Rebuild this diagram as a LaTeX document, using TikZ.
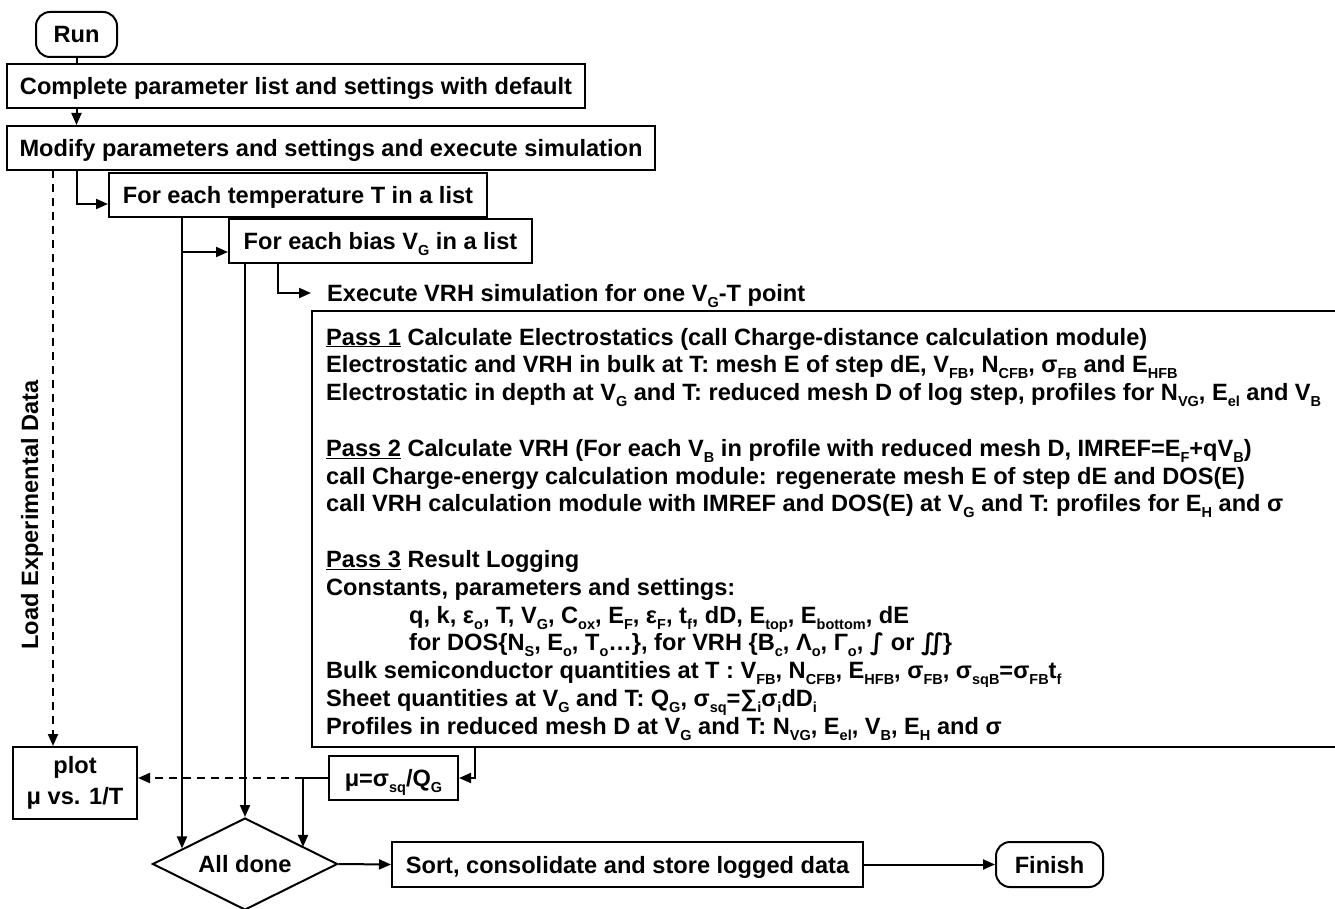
\documentclass[tikz,border=0pt]{standalone}
\usepackage{fontspec}
\setmainfont{Liberation Sans}
\newfontfamily\djv{DejaVu Sans}
\usetikzlibrary{arrows.meta,shapes.geometric,calc}
\newcommand\sbs[1]{\raisebox{-6pt}{\fontsize{14.5}{14.5}\selectfont #1}}
\begin{document}
\begin{tikzpicture}[x=1pt,y=-1pt,
  every node/.style={font=\fontsize{23.6}{27.8}\selectfont\bfseries},
  box/.style={draw, line width=2pt, inner sep=0pt, text height=17pt, text depth=0pt},
  term/.style={box, rounded corners=14pt},
  arr/.style={line width=2pt, -{Triangle[length=12pt,width=10pt]}},
  ln/.style={line width=2pt},
  dsh/.style={arr, dash pattern=on 8pt off 6pt},
  txt/.style={anchor=base west, inner sep=0pt}
]
\useasboundingbox (0,0) rectangle (1335,909);
\clip (0,0) rectangle (1335,909);

\node[term, minimum width=81pt, minimum height=45pt] (run) at (76.5,34.5) {Run};
\node[box, minimum width=578pt, minimum height=44pt] (complete) at (296,86) {Complete parameter list and settings with default};
\node[box, minimum width=648pt, minimum height=44pt] (modify) at (331,148) {Modify parameters and settings and execute simulation};
\node[box, minimum width=378pt, minimum height=44pt] (temp) at (298,195) {For each temperature T in a list};
\node[box, minimum width=303pt, minimum height=44pt] (bias) at (380.5,241) {For each bias V\sbs{G} in a list};
\node[anchor=west, inner xsep=16pt, inner ysep=0pt, text height=17pt, text depth=0pt] (exec) at (311,293) {Execute VRH simulation for one V\sbs{G}-T point};
\node[draw, line width=2pt, minimum width=1040pt, minimum height=436pt, anchor=north west, inner sep=0pt] (vrh) at (311,310) {};

\node[txt] (l1) at (326,345) {\underline{Pass 1} Calculate Electrostatics (call Charge-distance calculation module)};
\node[txt] (l2) at (326,372.8) {Electrostatic and VRH in bulk at T: mesh E of step dE, V\sbs{FB}, N\sbs{CFB}, σ\sbs{FB} and E\sbs{HFB}};
\node[txt] (l3) at (326,400.6) {Electrostatic in depth at V\sbs{G} and T: reduced mesh D of log step, profiles for N\sbs{VG}, E\sbs{el} and V\sbs{B}};
\node[txt] (l5) at (326,456.2) {\underline{Pass 2} Calculate VRH (For each V\sbs{B} in profile with reduced mesh D, IMREF=E\sbs{F}+qV\sbs{B})};
\node[txt] (l6) at (326,484) {call Charge-energy calculation module: regenerate mesh E of step dE and DOS(E)};
\node[txt] (l7) at (326,511.8) {call VRH calculation module with IMREF and DOS(E) at V\sbs{G} and T: profiles for E\sbs{H} and σ};
\node[txt] (l9) at (326,567.4) {\underline{Pass 3} Result Logging};
\node[txt] (l10) at (326,595.2) {Constants, parameters and settings:};
\node[txt] (l11) at (409,623) {q, k, ε\sbs{o}, T, V\sbs{G}, C\sbs{ox}, E\sbs{F}, ε\sbs{F}, t\sbs{f}, dD, E\sbs{top}, E\sbs{bottom}, dE};
\node[txt] (l12) at (409,650.8) {for DOS\{N\sbs{S}, E\sbs{o}, T\sbs{o}…\}, for VRH \{B\sbs{c}, Λ\sbs{o}, Γ\sbs{o}, {\djv ∫} or {\djv ∬}\}};
\node[txt] (l13) at (326,678.6) {Bulk semiconductor quantities at T : V\sbs{FB}, N\sbs{CFB}, E\sbs{HFB}, σ\sbs{FB}, σ\sbs{sqB}=σ\sbs{FB}t\sbs{f}};
\node[txt] (l14) at (326,706.4) {Sheet quantities at V\sbs{G} and T: Q\sbs{G}, σ\sbs{sq}=∑\sbs{i}σ\sbs{i}dD\sbs{i}};
\node[txt] (l15) at (326,734.2) {Profiles in reduced mesh D at V\sbs{G} and T: N\sbs{VG}, E\sbs{el}, V\sbs{B}, E\sbs{H} and σ};

\node[box, minimum width=129pt, minimum height=44pt] (mu) at (393.5,778) {μ=σ\sbs{sq}/Q\sbs{G}};
\node[draw, line width=2pt, minimum width=124pt, minimum height=72pt, align=center, inner sep=0pt, font=\fontsize{23.6}{31}\selectfont\bfseries] (plot) at (75,783) {plot\\μ vs. 1/T};
\node[diamond, draw, line width=2pt, aspect=2, minimum width=185pt, minimum height=92pt, inner sep=0pt] (done) at (245,864) {All done};
\node[box, minimum width=471pt, minimum height=45pt] (sort) at (627.5,864.5) {Sort, consolidate and store logged data};
\node[term, minimum width=107pt, minimum height=45pt] (finish) at (1049.5,864.5) {Finish};
\node[rotate=90, inner sep=0pt] (load) at (32,515) {Load Experimental Data};

\coordinate (tin) at ($(temp.west)+(0,9)$);
\coordinate (bin) at ($(bias.west)+(0,11)$);
\coordinate (tx) at (182,217);
\coordinate (ex) at (278,263);
\coordinate (vx) at (475,746);
\coordinate (mj) at (303,778);
\coordinate (dx) at (53,170);

\draw[ln] (run.south) -- (run.south |- complete.north);
\draw[arr] (run.south |- complete.south) -- (run.south |- modify.north);
\draw[arr] (run.south |- modify.south) |- (tin);
\draw[arr] (tx) -- (tx |- done.166);
\draw[arr] (tx |- bin) -- (bin);
\draw[arr] (done.north |- bias.south) -- (done.north);
\draw[arr] (ex) |- (exec.west);
\draw[arr] (vx) |- (mu.east);
\draw[ln] (mu.west) -- (mj);
\draw[arr] (mj) -- (mj |- done.16);
\draw[dsh] (mj) -- (plot.east |- mu.west);
\draw[dsh] (dx) -- (dx |- plot.north);
\draw[arr] (done.east) -- (sort.west);
\draw[arr] (sort.east) -- (finish.west);
\end{tikzpicture}
\end{document}
